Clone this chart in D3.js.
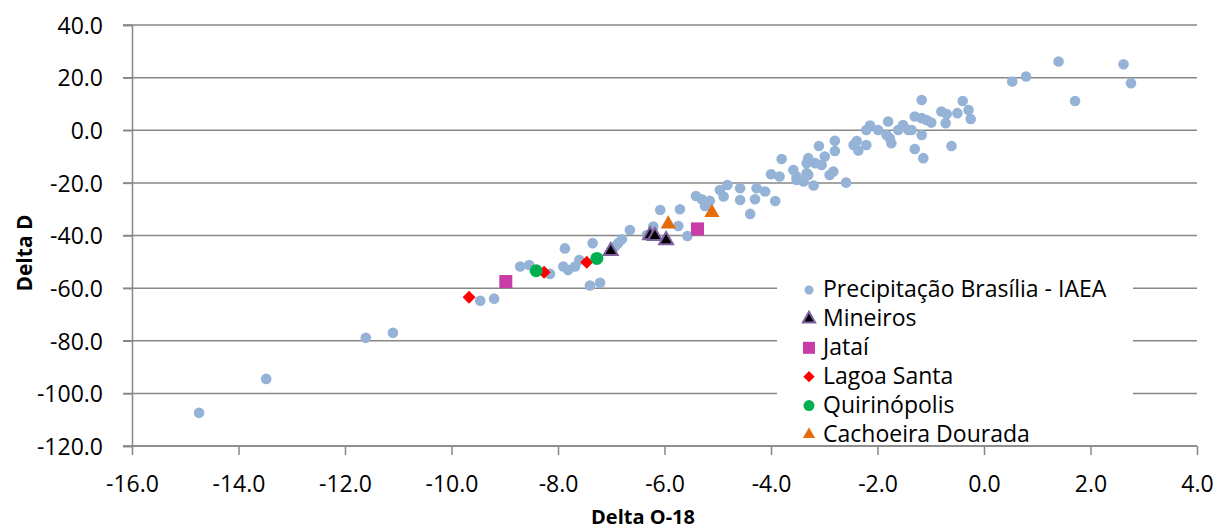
<!DOCTYPE html>
<html><head><meta charset="utf-8">
<script src="https://cdnjs.cloudflare.com/ajax/libs/d3/7.8.5/d3.min.js"></script>
<style>body{margin:0;background:#fff}svg{display:block;font-family:"Open Sans",sans-serif}</style>
</head><body><svg id="c" width="1217" height="532"></svg>
<script>
const xTicks = [-16,-14,-12,-10,-8,-6,-4,-2,0,2,4];
const yTicks = [40,20,0,-20,-40,-60,-80,-100,-120];
const seriesNames = ["Precipitação Brasília - IAEA","Mineiros","Jataí","Lagoa Santa","Quirinópolis","Cachoeira Dourada"];
const precipX = [-14.74,-13.48,-11.61,-11.10,-9.46,-9.20,-8.71,-8.54,-8.15,-7.87,-7.90,-7.81,-7.68,-7.60,-7.35,-7.40,-7.21,-6.93,-6.87,-6.80,-6.65,-6.33,-6.21,-6.08,-5.74,-5.71,-5.57,-5.41,-5.30,-5.24,-5.15,-4.96,-4.82,-4.89,-4.58,-4.58,-4.39,-4.30,-4.27,-4.11,-3.92,-4.00,-3.84,-3.80,-3.58,-3.52,-3.52,-3.39,-3.33,-3.30,-3.20,-3.30,-3.33,-3.17,-3.10,-3.05,-2.99,-2.83,-2.90,-2.80,-2.80,-2.59,-2.45,-2.39,-2.36,-2.21,-2.21,-2.14,-1.99,-1.80,-1.83,-1.77,-1.74,-1.61,-1.52,-1.42,-1.36,-1.30,-1.17,-1.17,-1.08,-0.99,-1.17,-1.30,-1.14,-0.80,-0.70,-0.72,-0.61,-0.50,-0.40,-0.29,-0.25,0.53,0.79,1.40,1.71,2.62,2.76];
const precipY = [-107.4,-94.5,-78.9,-77.0,-64.8,-64.0,-51.8,-51.2,-54.6,-44.9,-51.8,-53.1,-51.8,-49.3,-42.9,-59.0,-58.0,-44.2,-42.9,-41.4,-37.9,-39.8,-36.6,-30.3,-36.4,-30.0,-40.2,-25.0,-26.2,-28.8,-26.8,-22.7,-20.8,-25.2,-22.0,-26.5,-31.8,-26.2,-22.0,-23.3,-26.9,-16.7,-17.6,-10.9,-15.1,-17.6,-18.9,-19.5,-16.3,-17.0,-21.0,-10.6,-12.5,-12.5,-6.0,-13.2,-10.0,-15.7,-17.0,-4.0,-7.9,-19.9,-5.6,-4.1,-7.7,-5.6,0.1,1.8,0.1,3.3,-1.8,-3.0,-4.9,0.1,2.0,0.1,0.1,5.2,11.5,4.6,3.9,2.9,-1.8,-7.1,-10.6,7.1,6.2,2.7,-6.0,6.5,11.1,7.7,4.3,18.5,20.4,26.1,11.1,25.1,17.9];
const mineirosX = [-7.01,-6.27,-6.18,-5.97];
const mineirosY = [-45.5,-39.5,-39.8,-41.4];
const jataiX = [-8.98,-5.38];
const jataiY = [-57.5,-37.5];
const lagoaX = [-9.67,-8.26,-7.46];
const lagoaY = [-63.5,-54.0,-50.2];
const quiriX = [-8.41,-7.27];
const quiriY = [-53.4,-48.7];
const cachoX = [-5.93,-5.11];
const cachoY = [-35.3,-30.9];

const svg = d3.select("#c");
const L=132,R=1197,T=25,B=446;
const x = d3.scaleLinear().domain([-16,4]).range([L,R]);
const y = d3.scaleLinear().domain([-120,40]).range([B,T]);
const grid="#878787";
const fmt = d => d.toFixed(1);

svg.append("g").selectAll("line").data(yTicks).join("line")
  .attr("x1",L-9).attr("x2",R).attr("y1",d=>y(d)).attr("y2",d=>y(d))
  .attr("stroke",grid).attr("stroke-width",1.5);
const yAx = svg.append("g").attr("transform",`translate(${L},0)`)
  .call(d3.axisLeft(y).tickValues(yTicks).tickFormat(fmt).tickSize(9).tickPadding(20));
const xAx = svg.append("g").attr("transform",`translate(0,${B})`)
  .call(d3.axisBottom(x).tickValues(xTicks).tickFormat(fmt).tickSize(9).tickPadding(27));
[yAx,xAx].forEach(a=>{
  a.select(".domain").attr("stroke",grid).attr("stroke-width",1.5);
  a.selectAll(".tick line").attr("stroke",grid).attr("stroke-width",1.5);
  a.selectAll("text").attr("fill","#000").style("font-size","23px").style("font-family","'Open Sans',sans-serif");
});
yAx.selectAll("text").attr("dy","0.36em");
xAx.selectAll("text").attr("dy","0.45em");
xAx.selectAll(".domain").attr("d",`M${L},0H${R}`);

svg.append("text").attr("x",643).attr("y",524).attr("text-anchor","middle")
  .style("font-size","20px").style("font-weight","bold").text("Delta O-18");
svg.append("text").attr("transform","translate(32,253) rotate(-90)").attr("text-anchor","middle")
  .style("font-size","21px").style("font-weight","bold").text("Delta D");

svg.append("rect").attr("x",777).attr("y",272).attr("width",356).attr("height",171).attr("fill","#fff");

const plot = svg.append("g");
const zip=(a,b)=>a.map((v,i)=>[v,b[i]]);
plot.selectAll(".p").data(zip(precipX,precipY)).join("circle")
  .attr("cx",d=>x(d[0])).attr("cy",d=>y(d[1])).attr("r",5.3).attr("fill","#95B3D7");
const tri = d3.symbol().type(d3.symbolTriangle);
plot.selectAll(".m").data(zip(mineirosX,mineirosY)).join("path")
  .attr("transform",d=>`translate(${x(d[0])},${y(d[1])+1})`).attr("d",tri.size(85)())
  .attr("fill","#000").attr("stroke","#7E62A0").attr("stroke-width",2);
plot.selectAll(".j").data(zip(jataiX,jataiY)).join("rect")
  .attr("x",d=>x(d[0])-6.5).attr("y",d=>y(d[1])-6.5).attr("width",13).attr("height",13).attr("fill","#C83CA8");
plot.selectAll(".l").data(zip(lagoaX,lagoaY)).join("path")
  .attr("transform",d=>`translate(${x(d[0])},${y(d[1])}) rotate(45)`).attr("d","M-4.6,-4.6H4.6V4.6H-4.6Z").attr("fill","#FF0000");
plot.selectAll(".q").data(zip(quiriX,quiriY)).join("circle")
  .attr("cx",d=>x(d[0])).attr("cy",d=>y(d[1])).attr("r",6.5).attr("fill","#00B050");
plot.selectAll(".c").data(zip(cachoX,cachoY)).join("path")
  .attr("transform",d=>`translate(${x(d[0])},${y(d[1])+1})`).attr("d",tri.size(100)())
  .attr("fill","#E46C0A");

const lg = svg.append("g");
const ly0=289, ldy=28.9, lmx=809, ltx=823;
seriesNames.forEach((n,i)=>{
  const yy = ly0+i*ldy;
  lg.append("text").attr("x",ltx).attr("y",yy).attr("dy","0.35em").style("font-size","23px").text(n);
  const g = lg.append("g").attr("transform",`translate(${lmx},${yy+1})`);
  if(i===0) g.append("circle").attr("r",4.5).attr("fill","#95B3D7");
  if(i===1) g.append("path").attr("d",tri.size(65)()).attr("fill","#000").attr("stroke","#7E62A0").attr("stroke-width",2);
  if(i===2) g.append("rect").attr("x",-6).attr("y",-6).attr("width",12).attr("height",12).attr("fill","#C83CA8");
  if(i===3) g.append("path").attr("transform","rotate(45)").attr("d","M-4,-4H4V4H-4Z").attr("fill","#FF0000");
  if(i===4) g.append("circle").attr("r",5.5).attr("fill","#00B050");
  if(i===5) g.append("path").attr("d",tri.size(65)()).attr("fill","#E46C0A");
});
</script></body></html>
